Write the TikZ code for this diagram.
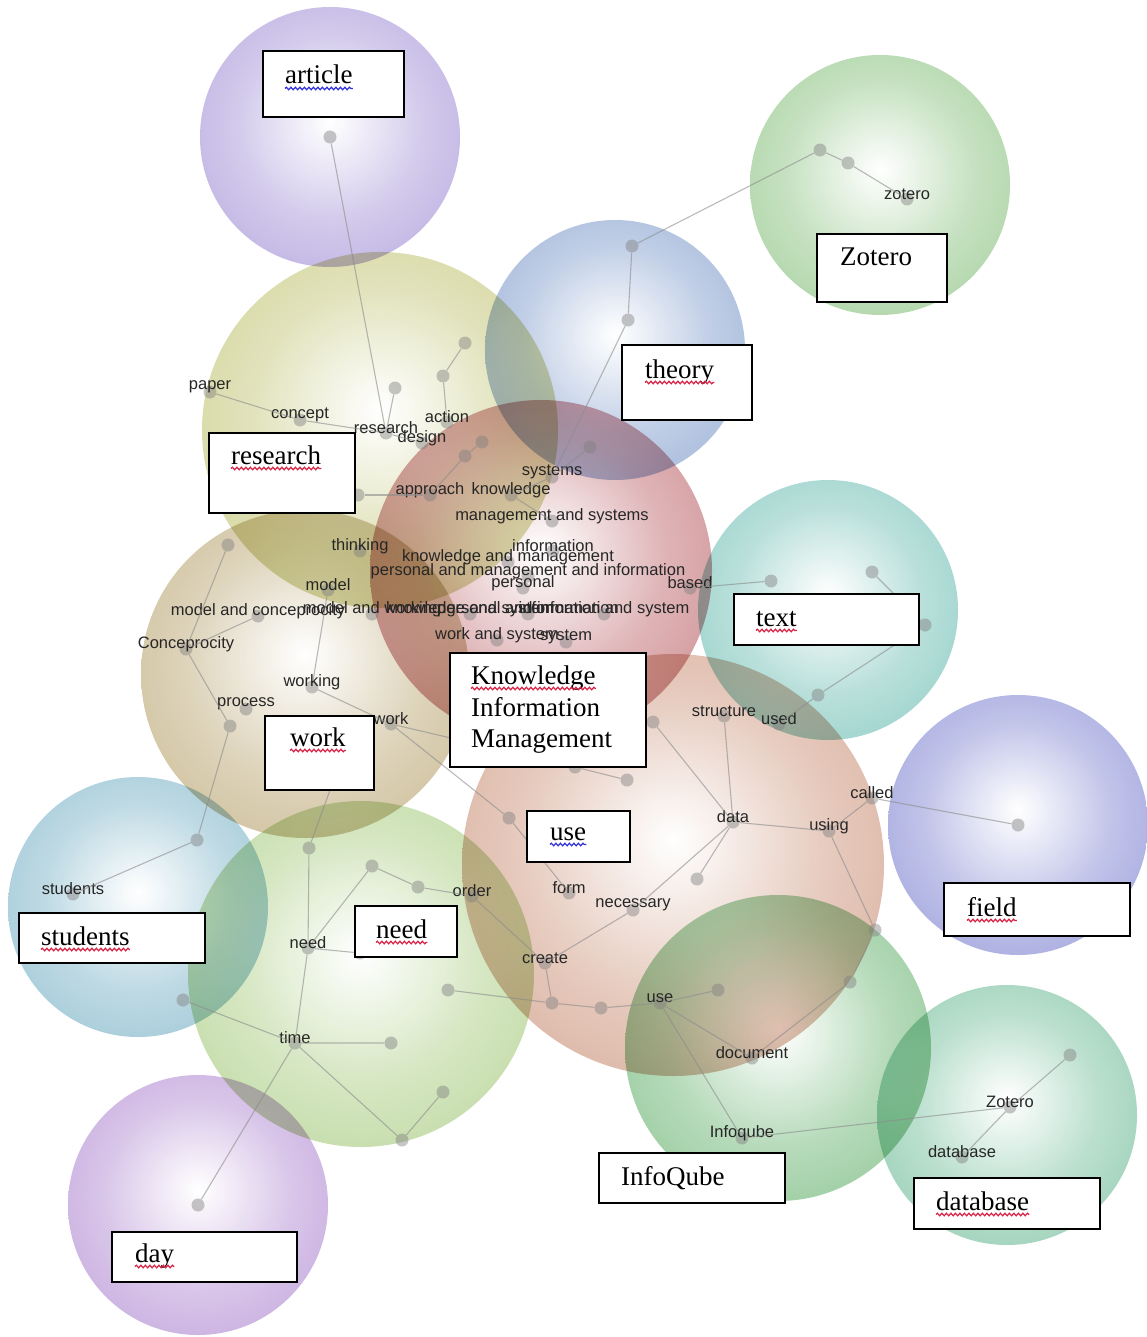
\documentclass[tikz,border=0pt]{standalone}
\usepackage{fontspec}
\setmainfont{Liberation Serif}
\newfontfamily\labfont{Liberation Sans}
\usetikzlibrary{decorations.pathmorphing}
\colorlet{ballcol}{red}
\pgfdeclareradialshading[ballcol]{bubble}{\pgfpoint{0bp}{3bp}}{color(0bp)=(white); color(4bp)=(white!88!ballcol); color(18bp)=(white!45!ballcol); color(34bp)=(white!15!ballcol); color(47bp)=(ballcol); color(50bp)=(ballcol!90!black)}
\definecolor{cArticle}{RGB}{165,148,215}
\definecolor{cZot}{RGB}{140,195,130}
\definecolor{cTheory}{RGB}{130,158,205}
\definecolor{cResearch}{RGB}{195,198,120}
\definecolor{cKIM}{RGB}{190,105,110}
\definecolor{cText}{RGB}{115,192,182}
\definecolor{cWork}{RGB}{188,168,118}
\definecolor{cUse}{RGB}{205,150,125}
\definecolor{cField}{RGB}{130,135,210}
\definecolor{cStudents}{RGB}{125,180,200}
\definecolor{cNeed}{RGB}{170,205,130}
\definecolor{cInfo}{RGB}{110,182,118}
\definecolor{cDb}{RGB}{115,190,155}
\definecolor{cDay}{RGB}{178,140,210}
\definecolor{spellred}{RGB}{215,35,70}
\definecolor{spellblue}{RGB}{50,50,215}
\newcommand\bubble[4]{\colorlet{ballcol}{#4}\shade[shading=bubble, blend mode=multiply, opacity=0.9] (#1,#2) circle[radius=#3];}
\newcommand\wdot[3]{\node[dotn] (#1) at (#2) {}; \node[lab] (#1-l) at ([yshift=5pt]#1) {#3};}
\newcommand\udot[2]{\node[dotn] (#1) at (#2) {};}
\tikzset{
 dotn/.style={circle, fill=black!50, fill opacity=0.45, draw=none, minimum size=13pt, inner sep=0},
 lab/.style={font=\labfont\fontsize{16.5}{17}\selectfont, text=black!85, inner sep=0},
 conn/.style={draw=black!45, line width=1.1pt, opacity=0.6},
 tbox/.style={draw=black, line width=1.8pt, fill=white, inner sep=0},
 btext/.style={font=\fontsize{27}{30}\selectfont, inner sep=0, anchor=base west},
 wavy/.style={decorate, decoration={snake, amplitude=1.3pt, segment length=4.5pt}, line width=1.2pt, draw=spellred},
 wavyb/.style={wavy, draw=spellblue},
}
\begin{document}
\begin{tikzpicture}[x=1pt, y=-1pt]
\useasboundingbox (0,0) rectangle (1147,1337);
% bubbles
\bubble{330}{137}{130}{cArticle}
\bubble{880}{185}{130}{cZot}
\bubble{615}{350}{130}{cTheory}
\bubble{380}{430}{178}{cResearch}
\bubble{541}{571}{171}{cKIM}
\bubble{828}{610}{130}{cText}
\bubble{305}{674}{164}{cWork}
\bubble{673}{865}{211}{cUse}
\bubble{1018}{825}{130}{cField}
\bubble{138}{907}{130}{cStudents}
\bubble{361}{974}{173}{cNeed}
\bubble{778}{1048}{153}{cInfo}
\bubble{1007}{1115}{130}{cDb}
\bubble{198}{1205}{130}{cDay}
% dots and labels
\udot{a1}{330,137}
\udot{z1}{820,150} \udot{z2}{848,163} \wdot{z3}{907,199}{zotero}
\udot{t1}{632,246} \udot{t2}{628,320}
\wdot{paper}{210,392}{paper}
\wdot{concept}{300,420}{concept}
\wdot{research}{386,433}{research}
\udot{r1}{395,388} \udot{r2}{443,376} \udot{r3}{465,343}
\wdot{action}{447,422}{action}
\wdot{design}{422,443}{design}
\udot{r4}{358,495}
\udot{k1}{482,442} \udot{k2}{465,456} \udot{k3}{590,447}
\wdot{systems}{552,477}{systems}
\wdot{approach}{430,495}{approach}
\wdot{knowledge}{511,495}{knowledge}
\wdot{mgs}{552,521}{management and systems}
\wdot{thinking}{360,551}{thinking}
\wdot{kam}{508,562}{knowledge and management}
\wdot{info}{553,551}{information}
\wdot{pami}{528,576}{personal and management and information}
\wdot{personal}{523,588}{personal}
\wdot{based}{690,588}{based}
\wdot{model}{328,590}{model}
\wdot{mac}{258,616}{model and conceprocity}
\wdot{maw}{372,614}{model and working}
\wdot{kas}{470,614}{knowledge and system}
\wdot{pai}{528,614}{personal and information}
\wdot{ias}{604,614}{information and system}
\wdot{was}{497,640}{work and system}
\wdot{system}{566,642}{system}
\wdot{concep}{186,649}{Conceprocity}
\wdot{working}{312,687}{working}
\wdot{process}{246,709}{process}
\udot{w1}{230,726}
\wdot{work}{391,724}{work}
\udot{w2}{228,545}
\udot{w3}{350,735}
\wdot{students}{73,894}{students}
\udot{s1}{197,840} \udot{s2}{183,1000}
\udot{n1}{309,848} \udot{n2}{372,866} \udot{n3}{418,887}
\wdot{order}{472,896}{order}
\wdot{need}{308,948}{need}
\udot{n4}{360,953}
\wdot{time}{295,1043}{time}
\udot{n5}{391,1043} \udot{n6}{448,990} \udot{n7}{443,1092} \udot{n8}{402,1140}
\wdot{structure}{724,716}{structure}
\wdot{used}{779,724}{used}
\wdot{data}{733,822}{data}
\wdot{using}{829,831}{using}
\wdot{called}{872,798}{called}
\udot{u1}{697,879}
\wdot{form}{569,893}{form}
\wdot{necessary}{633,910}{necessary}
\wdot{create}{545,963}{create}
\udot{u2}{509,818} \udot{u3}{627,780} \udot{u4}{653,722} \udot{u5}{575,767}
\wdot{use}{660,1003}{use}
\udot{u6}{718,990} \udot{u7}{601,1008} \udot{u8}{552,1003} \udot{u9}{850,982} \udot{u10}{875,930}
\wdot{document}{752,1058}{document}
\wdot{infoqube}{742,1138}{Infoqube}
\udot{d1}{1070,1055}
\wdot{zot2}{1010,1107}{Zotero}
\wdot{database}{962,1157}{database}
\udot{x1}{771,581} \udot{x2}{872,572} \udot{x3}{925,625} \udot{x4}{818,695}
\udot{f1}{1018,825}
\udot{dy}{198,1205}
% connectors
\draw[conn] (a1) -- (research);
\draw[conn] (paper) -- (concept) -- (research) -- (r1);
\draw[conn] (r3) -- (r2) -- (action);
\draw[conn] (research) -- (design);
\draw[conn] (r4) -- (approach);
\draw[conn] (k1) -- (k2) -- (approach);
\draw[conn] (k3) -- (systems);
\draw[conn] (t1) -- (z1) -- (z2) -- (z3);
\draw[conn] (t1) -- (t2) -- (systems);
\draw[conn] (systems) -- (knowledge) -- (mgs);
\draw[conn] (w2) -- (concep) -- (w1) -- (s1) -- (students);
\draw[conn] (mac) -- (concep);
\draw[conn] (model) -- (working) -- (work);
\draw[conn] (work) -- (u5) -- (u3);
\draw[conn] (work) -- (u2) -- (form);
\draw[conn] (n1) -- (w3);
\draw[conn] (n1) -- (need) -- (n2) -- (n3) -- (order) -- (create);
\draw[conn] (need) -- (n4);
\draw[conn] (need) -- (time) -- (n5);
\draw[conn] (time) -- (n8) -- (n7);
\draw[conn] (time) -- (s2);
\draw[conn] (time) -- (dy);
\draw[conn] (n6) -- (u8) -- (u7) -- (use);
\draw[conn] (create) -- (u8);
\draw[conn] (u4) -- (data);
\draw[conn] (structure) -- (data) -- (using) -- (called) -- (f1);
\draw[conn] (data) -- (u1);
\draw[conn] (data) -- (necessary) -- (create);
\draw[conn] (using) -- (u10) -- (u9) -- (document);
\draw[conn] (use) -- (u6);
\draw[conn] (use) -- (document);
\draw[conn] (use) -- (infoqube) -- (zot2) -- (d1);
\draw[conn] (zot2) -- (database);
\draw[conn] (based) -- (x1);
\draw[conn] (x2) -- (x3) -- (x4) -- (used);
% boxes
\node[tbox, minimum width=141, minimum height=66] (bArticle) at (333.5,84) {};
\node[tbox, minimum width=130, minimum height=68] (bZotero) at (882,268) {};
\node[tbox, minimum width=130, minimum height=75] (bTheory) at (687,382.5) {};
\node[tbox, minimum width=146, minimum height=80] (bResearch) at (282,473) {};
\node[tbox, minimum width=185, minimum height=51] (bText) at (826.5,619.5) {};
\node[tbox, minimum width=196, minimum height=114] (bKIM) at (548,710) {};
\node[tbox, minimum width=109, minimum height=74] (bWork) at (319.5,753) {};
\node[tbox, minimum width=103, minimum height=51] (bUse) at (578.5,836.5) {};
\node[tbox, minimum width=102, minimum height=51] (bNeed) at (406,931.5) {};
\node[tbox, minimum width=186, minimum height=50] (bStudents) at (112,938) {};
\node[tbox, minimum width=186, minimum height=53] (bField) at (1037,909.5) {};
\node[tbox, minimum width=186, minimum height=50] (bInfoQube) at (692,1178) {};
\node[tbox, minimum width=186, minimum height=51] (bDatabase) at (1007,1203.5) {};
\node[tbox, minimum width=185, minimum height=50] (bDay) at (204.5,1257) {};
% box texts
\node[btext] (tArticle) at (285,84) {article};
\node[btext] (tZotero) at (840,266) {Zotero};
\node[btext] (tTheory) at (645,378) {theory};
\node[btext] (tResearch) at (231,464) {research};
\node[btext] (tText) at (756,626) {text};
\node[btext] (tKnow) at (471,684) {Knowledge};
\node[btext] (tInfo) at (471,716) {Information};
\node[btext] (tMan) at (471,747) {Management};
\node[btext] (tWork) at (290,746) {work};
\node[btext] (tUse) at (550,840) {use};
\node[btext] (tNeed) at (376,938) {need};
\node[btext] (tStudents) at (41,945) {students};
\node[btext] (tField) at (967,916) {field};
\node[btext] (tInfoQube) at (621,1185) {InfoQube};
\node[btext] (tDatabase) at (936,1210) {database};
\node[btext] (tDay) at (135,1262) {day};
% spell-check underlines
\draw[wavyb] ([yshift=-4.5pt]tArticle.base west) -- ([yshift=-4.5pt]tArticle.base east);
\draw[wavy] ([yshift=-4.5pt]tTheory.base west) -- ([yshift=-4.5pt]tTheory.base east);
\draw[wavy] ([yshift=-4.5pt]tResearch.base west) -- ([yshift=-4.5pt]tResearch.base east);
\draw[wavy] ([yshift=-4.5pt]tText.base west) -- ([yshift=-4.5pt]tText.base east);
\draw[wavy] ([yshift=-4.5pt]tKnow.base west) -- ([yshift=-4.5pt]tKnow.base east);
\draw[wavy] ([yshift=-4.5pt]tWork.base west) -- ([yshift=-4.5pt]tWork.base east);
\draw[wavyb] ([yshift=-4.5pt]tUse.base west) -- ([yshift=-4.5pt]tUse.base east);
\draw[wavy] ([yshift=-4.5pt]tNeed.base west) -- ([yshift=-4.5pt]tNeed.base east);
\draw[wavy] ([yshift=-4.5pt]tStudents.base west) -- ([yshift=-4.5pt]tStudents.base east);
\draw[wavy] ([yshift=-4.5pt]tField.base west) -- ([yshift=-4.5pt]tField.base east);
\draw[wavy] ([yshift=-4.5pt]tDatabase.base west) -- ([yshift=-4.5pt]tDatabase.base east);
\draw[wavy] ([yshift=-4.5pt]tDay.base west) -- ([yshift=-4.5pt]tDay.base east);
\end{tikzpicture}
\end{document}
